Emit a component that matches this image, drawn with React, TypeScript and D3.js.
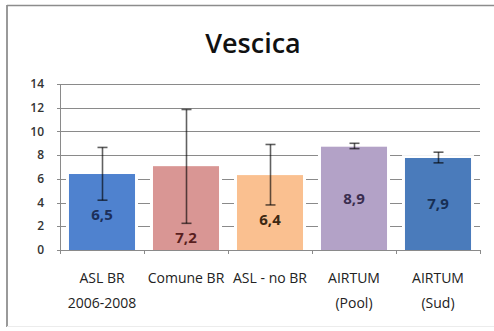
import React from "react";
import * as d3 from "d3";

const categories = ["ASL BR|2006-2008", "Comune BR", "ASL - no BR", "AIRTUM|(Pool)", "AIRTUM|(Sud)"];
const barValues = [6.4, 7.05, 6.3, 8.7, 7.75];
const errLow = [4.2, 2.25, 3.8, 8.55, 7.35];
const errHigh = [8.65, 11.85, 8.9, 9.0, 8.25];
const valueLabels = ["6,5", "7,2", "6,4", "8,9", "7,9"];
const yTicks = [0, 2, 4, 6, 8, 10, 12, 14];
const title = "Vescica";

const barColors = ["#4f82cf", "#d99694", "#fac090", "#b3a2c7", "#4a7bbb"];
const labelColors = ["#1c2f5a", "#5a1f1f", "#3d2812", "#3a2d4f", "#172f55"];

const W = 494, H = 331;
const FONT = "'Open Sans', 'Liberation Sans', sans-serif";

export default function App() {
  const x = d3.scaleBand<string>().domain(categories).range([60, 480]).paddingInner(0.214).paddingOuter(0.107);
  const y = d3.scaleLinear().domain([0, 14]).range([250, 84]);
  const step = x.step();
  const bw = x.bandwidth();
  const off = (step - bw) / 2;
  const boundaries = categories.map((c) => (x(c) as number) - off).concat([(x(categories[categories.length - 1]) as number) + bw + off]);

  return (
    <svg width={W} height={H} style={{ position: "absolute", left: 0, top: 0, background: "#fff" }} fontFamily={FONT}>
      <rect x={0} y={0} width={W} height={H} fill="#fff" />
      {/* frame */}
      <line x1={7} x2={7} y1={5} y2={327} stroke="#9a9a9a" strokeWidth={2} />
      <line x1={7} x2={W} y1={5.5} y2={5.5} stroke="#8c8c8c" strokeWidth={1.5} />
      <line x1={7} x2={W} y1={326.5} y2={326.5} stroke="#ececec" strokeWidth={1} />
      {/* title */}
      <text x={253} y={53} textAnchor="middle" fontSize={27} fontWeight={600} fill="#111">{title}</text>
      {/* gridlines */}
      {yTicks.filter((t) => t > 0).map((t) => (
        <line key={t} x1={60} x2={480} y1={Math.round(y(t)) + 0.5} y2={Math.round(y(t)) + 0.5} stroke="#8a8a8a" strokeWidth={1} />
      ))}
      {/* bars */}
      {categories.map((c, i) => (
        <rect key={c} x={x(c)} y={y(barValues[i])} width={bw} height={y(0) - y(barValues[i])}
          fill={barColors[i]} stroke="#fff" strokeWidth={6} paintOrder="stroke" />
      ))}
      {categories.map((c, i) => (
        <rect key={c + "f"} x={x(c)} y={y(barValues[i])} width={bw} height={y(0) - y(barValues[i])} fill={barColors[i]} />
      ))}
      {/* axes */}
      <line x1={60.5} x2={60.5} y1={84} y2={250} stroke="#8a8a8a" />
      {yTicks.map((t) => (
        <line key={t} x1={57} x2={60} y1={Math.round(y(t)) + 0.5} y2={Math.round(y(t)) + 0.5} stroke="#8a8a8a" />
      ))}
      <line x1={57} x2={480} y1={250.5} y2={250.5} stroke="#8a8a8a" />
      {boundaries.map((b, i) => (
        <line key={i} x1={Math.round(b) + 0.5} x2={Math.round(b) + 0.5} y1={250} y2={254} stroke="#8a8a8a" />
      ))}
      {yTicks.map((t) => (
        <text key={t} x={44} y={y(t)} dy="0.35em" textAnchor="end" fontSize={12} fontWeight={600} fill="#333">{t}</text>
      ))}
      {/* error bars */}
      {categories.map((c, i) => {
        const cx = Math.round((x(c) as number) + bw / 2) + 0.5;
        const y1 = y(errHigh[i]), y2 = y(errLow[i]);
        return (
          <g key={c + "e"} stroke="#000" strokeOpacity={0.62} strokeWidth={1.6}>
            <line x1={cx} x2={cx} y1={y1} y2={y2} />
            <line x1={cx - 5} x2={cx + 5} y1={y1} y2={y1} />
            <line x1={cx - 5} x2={cx + 5} y1={y2} y2={y2} />
          </g>
        );
      })}
      {/* value labels */}
      {categories.map((c, i) => {
        const cx = (x(c) as number) + bw / 2;
        const mid = (y(barValues[i]) + y(0)) / 2;
        const cy = Math.max(mid, y(errLow[i]) + 14.5);
        return (
          <text key={c + "l"} x={cx} y={cy} dy="0.35em" textAnchor="middle" fontSize={15} fontWeight={700} fill={labelColors[i]}>{valueLabels[i]}</text>
        );
      })}
      {/* category labels */}
      {categories.map((c) => {
        const cx = (x(c) as number) + bw / 2;
        return (
          <text key={c + "c"} x={cx} textAnchor="middle" fontSize={14} fill="#222">
            {c.split("|").map((line, j) => (
              <tspan key={j} x={cx} y={283 + j * 25}>{line}</tspan>
            ))}
          </text>
        );
      })}
    </svg>
  );
}
